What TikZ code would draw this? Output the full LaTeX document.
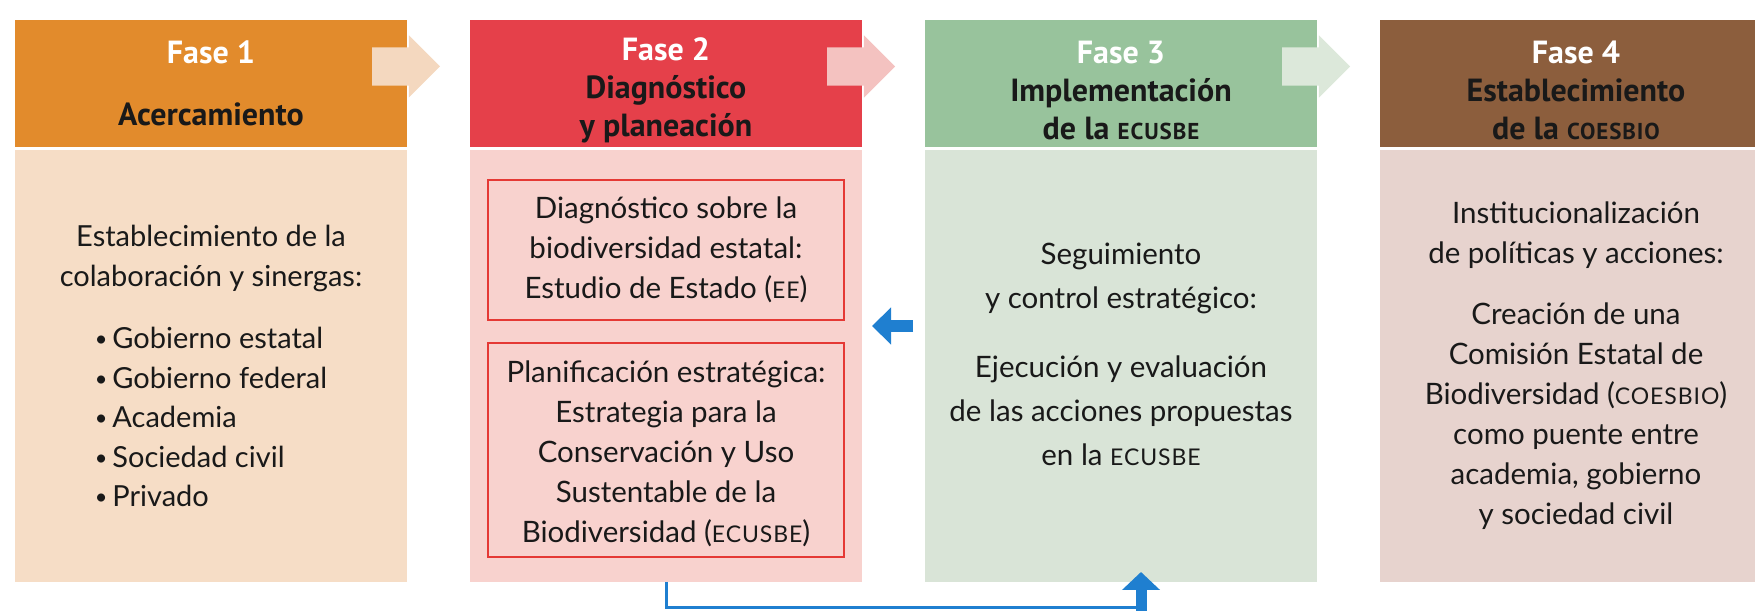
\documentclass[tikz,border=0pt]{standalone}
\usepackage{fontspec}
\setmainfont{Lato}
\newfontfamily\headfont{PT Sans}
\usetikzlibrary{positioning,shapes.arrows,arrows.meta}

\definecolor{naranja}{HTML}{E28B2C}
\definecolor{naranjaclaro}{HTML}{F6DDC6}
\definecolor{naranjaflecha}{HTML}{F4D8BF}
\definecolor{rojo}{HTML}{E5404A}
\definecolor{rojoclaro}{HTML}{F8D2CE}
\definecolor{rojoflecha}{HTML}{F4C2C0}
\definecolor{rojolinea}{HTML}{E53935}
\definecolor{verde}{HTML}{98C39C}
\definecolor{verdeclaro}{HTML}{D9E4D7}
\definecolor{verdeflecha}{HTML}{DCE8DA}
\definecolor{cafe}{HTML}{8C5E3D}
\definecolor{cafeclaro}{HTML}{E7D3CE}
\definecolor{azul}{HTML}{1F7FD0}

\newcommand\smc[1]{{\fontsize{23}{40}\selectfont\addfontfeature{LetterSpace=4}#1}}
\newcommand\alto{\rule{0pt}{36pt}}
\newcommand\punto{\raisebox{2pt}{\scalebox{0.75}{•}}\hspace{5pt}}

\begin{document}
\begin{tikzpicture}[x=1pt, y=1pt,
  fase/.style={rectangle, minimum width=392pt, minimum height=127pt, inner sep=0pt, outer sep=0pt,
    align=center, text=black!90, font=\headfont\bfseries\fontsize{32}{38}\selectfont},
  cuerpo/.style={rectangle, minimum width=392pt, minimum height=432pt, inner sep=0pt, outer sep=0pt},
  texto/.style={align=center, inner sep=0pt, text=black!90, font=\fontsize{29.5}{40}\selectfont},
  caja/.style={rectangle, draw=rojolinea, line width=2pt, fill=rojoclaro, minimum width=356pt,
    inner sep=0pt, align=center, text=black!90, font=\fontsize{29.5}{40}\selectfont},
  flecha/.style={single arrow, single arrow head extend=12pt, minimum height=68pt,
    inner xsep=0pt, inner ysep=19pt, outer sep=0pt, anchor=tip},
  enlace/.style={azul, line width=3pt},
  bloque/.style={azul, line width=12pt, -{Triangle[width=36pt,length=19pt]}}
]
  \useasboundingbox (0,0) rectangle (1755,610);
  \clip (0,0) rectangle (1755,610);

  \node[fase, fill=naranja] (h1) at (211,526.5) {\textcolor{white}{Fase 1}\\[24pt]Acercamiento};
  \node[fase, fill=rojo, right=63pt of h1] (h2) {\alto\textcolor{white}{Fase 2}\\Diagnóstico\\y planeación};
  \node[fase, fill=verde, right=63pt of h2] (h3) {\alto\textcolor{white}{Fase 3}\\Implementación\\de la \smc{ECUSBE}};
  \node[fase, fill=cafe, right=63pt of h3] (h4) {\alto\textcolor{white}{Fase 4}\\Establecimiento\\de la \smc{COESBIO}};

  \node[flecha, fill=naranjaflecha] (f1) at ([xshift=33pt,yshift=17pt]h1.east) {};
  \node[flecha, fill=rojoflecha] (f2) at ([xshift=33pt,yshift=17pt]h2.east) {};
  \node[flecha, fill=verdeflecha] (f3) at ([xshift=33pt,yshift=17pt]h3.east) {};

  \node[cuerpo, fill=naranjaclaro, below=3pt of h1] (b1) {};
  \node[cuerpo, fill=rojoclaro, below=3pt of h2] (b2) {};
  \node[cuerpo, fill=verdeclaro, below=3pt of h3] (b3) {};
  \node[cuerpo, fill=cafeclaro, below=3pt of h4] (b4) {};

  \node[texto, font=\fontsize{29}{39.5}\selectfont] (t1) at ([yshift=-6pt]b1.center) {Establecimiento de la\\colaboración y sinergas:\\[23pt]%
    \begin{tabular}[t]{@{}l@{}}\punto Gobierno estatal\\\punto Gobierno federal\\\punto Academia\\\punto Sociedad civil\\\punto Privado\end{tabular}};
  \node[texto, font=\fontsize{29.5}{44}\selectfont] (t3) at ([yshift=12pt]b3.center) {Seguimiento\\y control estratégico:\\[25pt]Ejecución y evaluación\\de las acciones propuestas\\en la \smc{ECUSBE}};
  \node[texto] (t4) at (b4.center) {Institucionalización\\de políticas y acciones:\\[21pt]Creación de una\\Comisión Estatal de\\Biodiversidad (\smc{COESBIO})\\como puente entre\\academia, gobierno\\y sociedad civil};

  \node[caja, minimum height=140pt, below=29pt of b2.north] (d1) {Diagnóstico sobre la\\biodiversidad estatal:\\Estudio de Estado (\smc{EE})};
  \node[caja, minimum height=214pt, below=21pt of d1] (d2) {\rule{0pt}{30pt}Planificación estratégica:\\Estrategia para la\\Conservación y Uso\\Sustentable de la\\Biodiversidad (\smc{ECUSBE})};

  \draw[bloque, shorten <=12pt, shorten >=10pt] ([yshift=40pt]b3.west) -- ([yshift=40pt]b2.east);
  \coordinate (k1) at ([yshift=-25pt]b2.south);
  \coordinate (k2) at ([xshift=20pt,yshift=-25pt]b3.south);
  \draw[enlace] (b2.south) -- (k1) -- (k2);
  \draw[bloque, line width=11pt, -{Triangle[width=37pt,length=18pt]}] ([yshift=-6pt]k2) -- ([xshift=20pt,yshift=10pt]b3.south);
\end{tikzpicture}
\end{document}
